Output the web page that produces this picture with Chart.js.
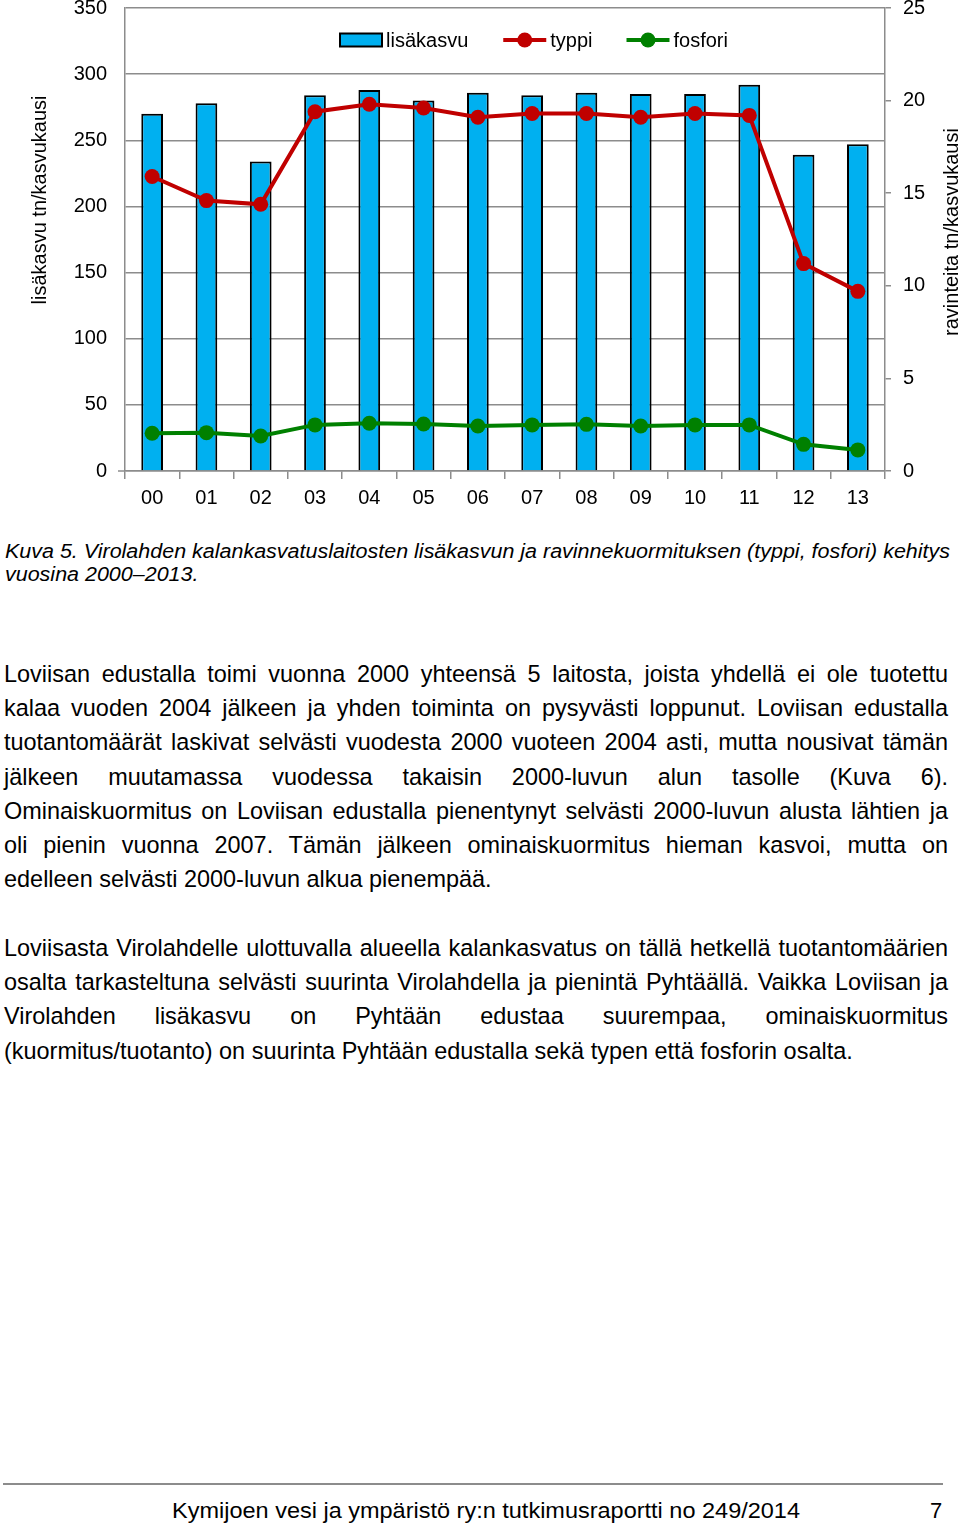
<!DOCTYPE html>
<html><head><meta charset="utf-8">
<script src="https://cdn.jsdelivr.net/npm/chart.js@4.4.0/dist/chart.umd.min.js"></script>
<style>
html,body{margin:0;padding:0;background:#fff;}
body{width:960px;height:1526px;position:relative;overflow:hidden;font-family:"Liberation Sans",Arial,sans-serif;color:#000;}
#chartWrap{position:absolute;left:0;top:0;width:960px;}
#c{display:block;}
.cap{position:absolute;left:5px;font-style:italic;font-size:20px;line-height:24px;white-space:nowrap;transform-origin:0 50%;}
.para{position:absolute;left:4px;width:944px;font-size:21px;}
.ln{height:34.2px;line-height:34.2px;text-align:justify;text-align-last:justify;}
.ln.last{text-align-last:left;}
.ln span{white-space:nowrap;}
#rule{position:absolute;left:3px;top:1483px;width:940px;height:2px;background:#8c8c8c;}
#foot{position:absolute;left:172px;top:1498px;font-size:22px;line-height:26px;white-space:nowrap;transform-origin:0 50%;}
#pg{position:absolute;left:930px;top:1498px;font-size:22px;line-height:26px;}
</style>
</head><body>
<div id="chartWrap"><canvas id="c" width="960" height="520"></canvas></div>

<div class="cap" id="cap1" style="top:539px">Kuva 5. Virolahden kalankasvatuslaitosten lisäkasvun ja ravinnekuormituksen (typpi, fosfori) kehitys</div>
<div class="cap" id="cap2" style="top:562px">vuosina 2000–2013.</div>

<div class="para" id="p1" style="top:657px">
<div class="ln">Loviisan edustalla toimi vuonna 2000 yhteensä 5 laitosta, joista yhdellä ei ole tuotettu</div>
<div class="ln">kalaa vuoden 2004 jälkeen ja yhden toiminta on pysyvästi loppunut. Loviisan edustalla</div>
<div class="ln">tuotantomäärät laskivat selvästi vuodesta 2000 vuoteen 2004 asti, mutta nousivat tämän</div>
<div class="ln">jälkeen muutamassa vuodessa takaisin 2000-luvun alun tasolle (Kuva 6).</div>
<div class="ln">Ominaiskuormitus on Loviisan edustalla pienentynyt selvästi 2000-luvun alusta lähtien ja</div>
<div class="ln">oli pienin vuonna 2007. Tämän jälkeen ominaiskuormitus hieman kasvoi, mutta on</div>
<div class="ln last"><span id="meas1">edelleen selvästi 2000-luvun alkua pienempää.</span></div>
</div>

<div class="para" id="p2" style="top:931px">
<div class="ln">Loviisasta Virolahdelle ulottuvalla alueella kalankasvatus on tällä hetkellä tuotantomäärien</div>
<div class="ln">osalta tarkasteltuna selvästi suurinta Virolahdella ja pienintä Pyhtäällä. Vaikka Loviisan ja</div>
<div class="ln">Virolahden lisäkasvu on Pyhtään edustaa suurempaa, ominaiskuormitus</div>
<div class="ln last"><span id="meas2">(kuormitus/tuotanto) on suurinta Pyhtään edustalla sekä typen että fosforin osalta.</span></div>
</div>

<div id="rule"></div>
<div id="foot">Kymijoen vesi ja ympäristö ry:n tutkimusraportti no 249/2014</div>
<div id="pg">7</div>

<script>
// ---- data ----
const years = ['00','01','02','03','04','05','06','07','08','09','10','11','12','13'];
const lisakasvu = [270, 278, 234, 284, 288, 280, 286, 284, 286, 285, 285, 292, 239, 247];
const typpi = [15.9, 14.6, 14.4, 19.4, 19.8, 19.6, 19.1, 19.3, 19.3, 19.1, 19.3, 19.2, 11.2, 9.7];
const fosfori = [2.04, 2.07, 1.89, 2.49, 2.58, 2.54, 2.43, 2.49, 2.52, 2.43, 2.49, 2.49, 1.44, 1.14];
const leftAxis = {min: 0, max: 350, step: 50};
const rightAxis = {min: 0, max: 25, step: 5};
const seriesNames = ['lisäkasvu', 'typpi', 'fosfori'];
const axisTitles = ['lisäkasvu tn/kasvukausi', 'ravinteita tn/kasvukausi'];

// ---- text fitting ----
(function(){
  const c1 = document.getElementById('cap1');
  const s = 945 / c1.getBoundingClientRect().width;
  c1.style.transform = 'scaleX(' + s + ')';
  document.getElementById('cap2').style.transform = 'scaleX(' + s + ')';
  const f = document.getElementById('foot');
  f.style.transform = 'scaleX(' + (628 / f.getBoundingClientRect().width) + ')';
  const m = document.getElementById('meas2');
  const fs = 21 * 849 / m.getBoundingClientRect().width;
  document.querySelectorAll('.para').forEach(p => p.style.fontSize = fs + 'px');
})();

const FONT = '"Liberation Sans", Arial, sans-serif';
const GRID = '#8c8c8c';
const BLUE = '#00B0F0', RED = '#C00000', GREEN = '#008000';
const PLOT_TOP = 8, PLOT_BOTTOM = 471, XAXIS_H = 49;

const decor = {
  id: 'decor',
  afterDraw(chart) {
    const ctx = chart.ctx;
    const ca = chart.chartArea;
    const off = ca.top - PLOT_TOP;
    ctx.save();
    // left "0" tick extension
    const y0 = chart.scales.y.getPixelForValue(0);
    ctx.strokeStyle = GRID; ctx.lineWidth = 1.5;
    ctx.beginPath(); ctx.moveTo(ca.left - 7, y0); ctx.lineTo(ca.left, y0); ctx.stroke();
    // axis titles
    ctx.fillStyle = '#000';
    ctx.font = '20px ' + FONT;
    ctx.textAlign = 'center'; ctx.textBaseline = 'middle';
    ctx.save(); ctx.translate(40, 200 + off); ctx.rotate(-Math.PI/2); ctx.fillText(axisTitles[0], 0, 0); ctx.restore();
    ctx.save(); ctx.translate(952, 232 + off); ctx.rotate(-Math.PI/2); ctx.fillText(axisTitles[1], 0, 0); ctx.restore();
    // legend
    const ds = chart.data.datasets;
    let x = 340; const y = 40 + off;
    ctx.textAlign = 'left';
    ds.forEach((d) => {
      if (d.type === 'bar') {
        ctx.fillStyle = d.backgroundColor; ctx.fillRect(x, y - 6.5, 42, 13);
        ctx.strokeStyle = d.borderColor; ctx.lineWidth = 2; ctx.strokeRect(x, y - 6.5, 42, 13);
        ctx.fillStyle = '#000'; ctx.fillText(d.label, x + 46, y + 1);
        x += 46 + ctx.measureText(d.label).width + 35;
      } else {
        ctx.strokeStyle = d.borderColor; ctx.lineWidth = d.borderWidth;
        ctx.beginPath(); ctx.moveTo(x, y); ctx.lineTo(x + 43, y); ctx.stroke();
        ctx.fillStyle = d.pointBackgroundColor;
        ctx.beginPath(); ctx.arc(x + 21.5, y, d.pointRadius, 0, Math.PI*2); ctx.fill();
        ctx.fillStyle = '#000'; ctx.fillText(d.label, x + 47, y + 1);
        x += 47 + ctx.measureText(d.label).width + 34;
      }
    });
    ctx.restore();
  }
};

const chart = new Chart(document.getElementById('c'), {
  data: {
    labels: years,
    datasets: [
      {type:'bar', label: seriesNames[0], data: lisakasvu, yAxisID:'y', backgroundColor: BLUE, borderColor:'#000', borderWidth:2, barPercentage:0.4, categoryPercentage:1, order:3},
      {type:'line', label: seriesNames[1], data: typpi, yAxisID:'y1', borderColor: RED, backgroundColor: RED, pointBackgroundColor: RED, borderWidth:4, pointRadius:7.5, pointBorderWidth:0, tension:0, order:1},
      {type:'line', label: seriesNames[2], data: fosfori, yAxisID:'y1', borderColor: GREEN, backgroundColor: GREEN, pointBackgroundColor: GREEN, borderWidth:4, pointRadius:7.5, pointBorderWidth:0, tension:0, order:2}
    ]
  },
  options: {
    responsive:false, maintainAspectRatio:false, animation:false, devicePixelRatio:1,
    layout:{padding:{top:0, left:0, right:0, bottom:0}},
    plugins:{legend:{display:false}, tooltip:{enabled:false}},
    scales:{
      x:{
        offset:true,
        grid:{offset:true, drawOnChartArea:false, drawTicks:true, tickLength:8, color:GRID, lineWidth:1.5},
        border:{display:true, color:GRID, width:1.5},
        ticks:{color:'#000', font:{size:20, family:FONT}, padding:7, maxRotation:0},
        afterFit(s){ s.height = XAXIS_H; }
      },
      y:{
        position:'left', min:leftAxis.min, max:leftAxis.max,
        ticks:{stepSize:leftAxis.step, color:'#000', font:{size:20, family:FONT}, padding:18},
        grid:{color:GRID, lineWidth:1.5, drawTicks:false},
        border:{display:true, color:GRID, width:1.5},
        afterFit(s){ s.width = 125; }
      },
      y1:{
        position:'right', min:rightAxis.min, max:rightAxis.max,
        ticks:{stepSize:rightAxis.step, color:'#000', font:{size:20, family:FONT}, padding:12},
        grid:{drawOnChartArea:false, color:GRID, lineWidth:1.5, tickLength:6},
        border:{display:true, color:GRID, width:1.5},
        afterFit(s){ s.width = 75; }
      }
    }
  },
  plugins:[decor]
});

// position the canvas so the plot area spans the reference's page rows
(function(){
  const off = chart.chartArea.top - PLOT_TOP;
  const h = Math.round(PLOT_BOTTOM + off + XAXIS_H);
  chart.resize(960, h);
  document.getElementById('chartWrap').style.top = (-off) + 'px';
})();
</script>
</body></html>
